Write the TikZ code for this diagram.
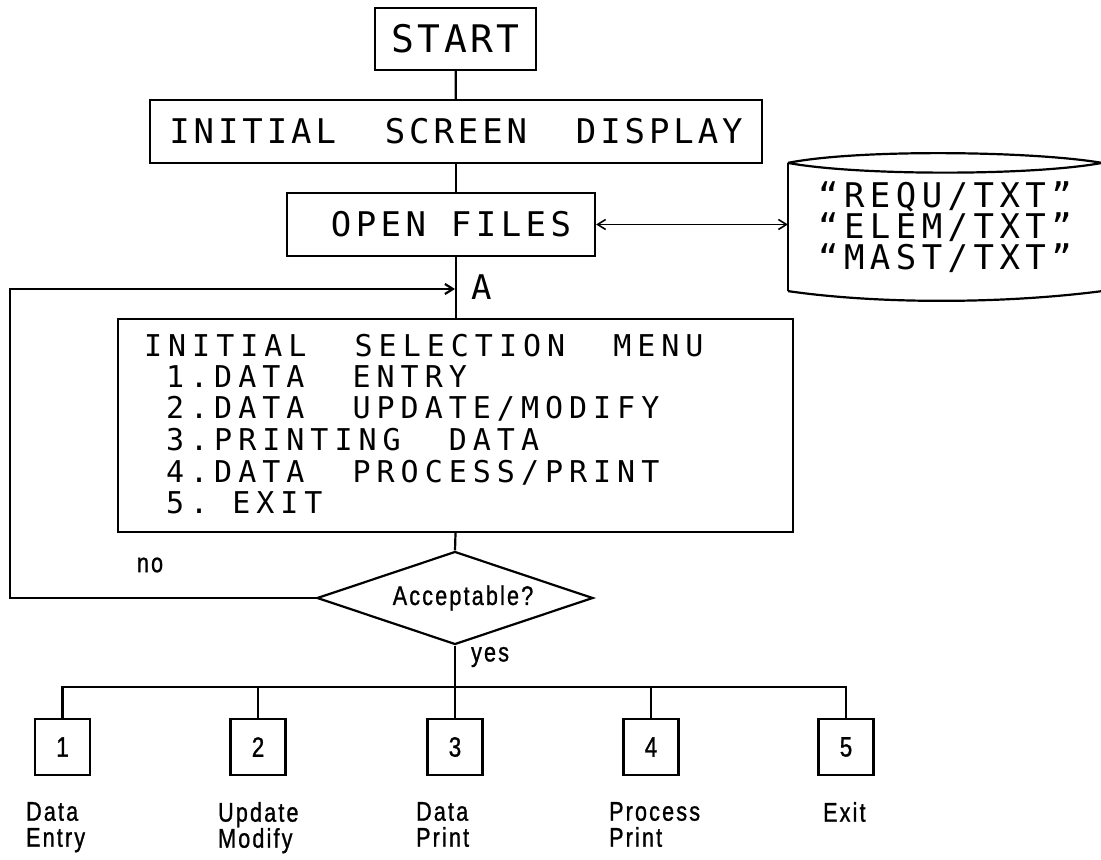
\documentclass[tikz,border=0pt]{standalone}
\usepackage{fontspec}
\usetikzlibrary{shapes.geometric,arrows.meta}
\newfontfamily\startfont[LetterSpace=9]{DejaVu Sans Mono}
\newfontfamily\titlefont[LetterSpace=11.5]{DejaVu Sans Mono}
\newfontfamily\openfont[LetterSpace=13]{DejaVu Sans Mono}
\newfontfamily\storefont[LetterSpace=16]{DejaVu Sans Mono}
\newfontfamily\menufont[LetterSpace=20]{DejaVu Sans Mono}
\newfontfamily\lblfont[FakeStretch=0.8,FakeBold=1,LetterSpace=8]{Liberation Sans}
\begin{document}
\begin{tikzpicture}[x=0.5pt,y=-0.5pt,line width=1.1pt,
  box/.style={draw,rectangle,inner sep=0pt},
  ttl/.style={font=\titlefont\fontsize{17}{20}\selectfont},
  mnu/.style={font=\menufont\fontsize{15}{18}\selectfont,inner sep=0pt,anchor=base west},
  lbl/.style={font=\lblfont\fontsize{13.5}{13}\selectfont},
  dig/.style={font=\lblfont\fontsize{14}{16}\selectfont},
  barb/.style={line width=0.8pt},
  tip/.tip={Straight Barb[length=4pt,width=5pt]}]
\useasboundingbox (0,0) rectangle (1101,860);
\fill[white] (0,0) rectangle (1101,860);

% main boxes
\node[box,minimum width=80.5pt,minimum height=31pt,font=\startfont\fontsize{19}{22}\selectfont] (start) at (455.5,39) {START};
\node[box,minimum width=306pt,minimum height=31.5pt,ttl] (isd) at (456,131.5) {INITIAL~~SCREEN~~DISPLAY};
\node[box,minimum width=154pt,minimum height=31.5pt,font=\openfont\fontsize{17}{20}\selectfont] (open) at (441,224.5) {\hspace*{10pt}OPEN~FILES};
\node[box,minimum width=337.5pt,minimum height=106.5pt] (menu) at (455.5,425.5) {};

% menu text
\node[mnu] (m0) at (143,357) {INITIAL~~SELECTION~~MENU};
\node[mnu] (m1) at (165,388) {1.DATA~~ENTRY};
\node[mnu] (m2) at (165,419) {2.DATA~~UPDATE/MODIFY};
\node[mnu] (m3) at (165,451) {3.PRINTING~~DATA};
\node[mnu] (m4) at (165,482) {4.DATA~~PROCESS/PRINT};
\node[mnu] (m5) at (165,513) {5.~EXIT};

% decision
\node[draw,diamond,aspect=3,minimum width=138pt,minimum height=46.5pt,inner sep=0pt,lbl] (dec) at (455,598) {\hspace*{8pt}Acceptable?};

% storage
\node[minimum width=156pt,minimum height=63pt,inner sep=0pt,align=center,
      font=\storefont\fontsize{17}{15.5}\selectfont] (files) at (945,227)
      {“REQU/TXT”\\“ELEM/TXT”\\“MAST/TXT”};
\draw (files.north west) -- (files.south west);
\draw (files.north west) .. controls +(70,-14) and +(-70,-12) .. (files.north east);
\draw (files.north west) .. controls +(70,13) and +(-70,13) .. (files.north east);
\draw (files.south west) .. controls +(90,13) and +(-100,13) .. (files.south east);

% bottom boxes
\node[box,minimum width=27.5pt,minimum height=28pt,dig] (b1) at (62.5,747) {1};
\node[box,minimum width=27.5pt,minimum height=28pt,dig] (b2) at (258,747) {2};
\node[box,minimum width=27.5pt,minimum height=28pt,dig] (b3) at (455,747) {3};
\node[box,minimum width=27.5pt,minimum height=28pt,dig] (b4) at (651,747) {4};
\node[box,minimum width=27.5pt,minimum height=28pt,dig] (b5) at (846,747) {5};

\node[lbl,anchor=north west,align=left,inner sep=0pt] (l1) at (25,801) {Data\\Entry};
\node[lbl,anchor=north west,align=left,inner sep=0pt] (l2) at (217,801) {Update\\Modify};
\node[lbl,anchor=north west,align=left,inner sep=0pt] (l3) at (415,801) {Data\\Print};
\node[lbl,anchor=north west,align=left,inner sep=0pt] (l4) at (608,801) {Process\\Print};
\node[lbl,anchor=north west,align=left,inner sep=0pt] (l5) at (822,801) {Exit};

% labels
\node[ttl,anchor=west,inner sep=0pt] (alab) at (470,287) {A};
\node[lbl] (no) at (150,565) {no};
\node[lbl,anchor=west,inner sep=0pt] (yes) at (470,657) {yes};

% connectors
\coordinate (lp) at (10,289);
\coordinate (A) at (455,289);
\coordinate (bus) at (455,687);
\draw (start) -- (isd);
\draw (isd.south) -- (isd.south |- open.north);
\draw (isd.south |- open.south) -- (isd.south |- menu.north);
\draw[-tip] (dec.west) -| (lp) -- (A);
\draw[barb,tip-tip] (open.east) -- (open.east -| files.west);
\draw (menu.south) -- (dec.north);
\draw (dec.south) -- (b3.north);
\draw (b1.north) -- (b1.north |- bus) -- (b5.north |- bus) -- (b5.north);
\draw (b2.north) -- (b2.north |- bus);
\draw (b4.north) -- (b4.north |- bus);
\end{tikzpicture}
\end{document}
